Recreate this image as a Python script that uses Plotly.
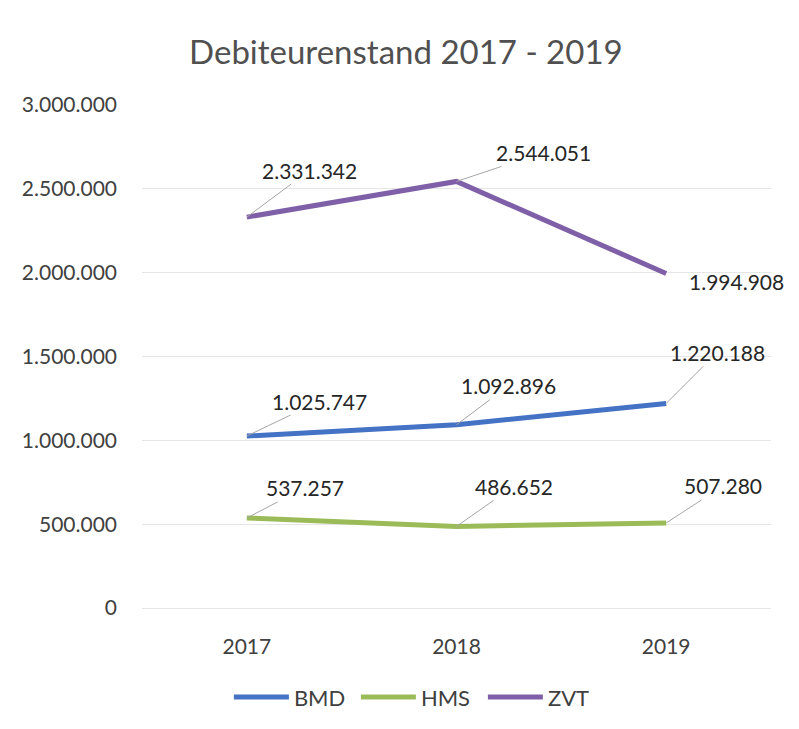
import plotly.graph_objects as go

years = ["2017", "2018", "2019"]
bmd = [1025747, 1092896, 1220188]
hms = [537257, 486652, 507280]
zvt = [2331342, 2544051, 1994908]
series_names = ["BMD", "HMS", "ZVT"]
colors = ["#4472C4", "#9BBB59", "#7F60A8"]
ytick_vals = [0, 500000, 1000000, 1500000, 2000000, 2500000, 3000000]

# label offsets (pixels) per series/point: (ax, ay)
offsets = {
    "BMD": [(73, -35), (52, -39), (51, -51)],
    "HMS": [(58, -30), (57, -40), (57, -37)],
    "ZVT": [(63, -47), (87, -29), (70, 8)],
}

FONT = "Lato"
TXT = "#404040"


def fmt(v):
    return f"{v:,}".replace(",", ".")


fig = go.Figure()
data = {"BMD": bmd, "HMS": hms, "ZVT": zvt}
for name, col in zip(series_names, colors):
    fig.add_trace(go.Scatter(
        x=years, y=data[name], mode="lines", name=name,
        line=dict(color=col, width=5),
    ))

annotations = []
for name in series_names:
    for i, v in enumerate(data[name]):
        ax, ay = offsets[name][i]
        hide = (name == "ZVT" and i == 2)
        annotations.append(dict(
            x=i, y=v, xref="x", yref="y", text=fmt(v),
            showarrow=True, ax=ax, ay=ay, arrowhead=0, arrowwidth=1,
            arrowcolor="rgba(0,0,0,0)" if hide else "#A6A6A6",
            standoff=0, startstandoff=0,
            font=dict(family=FONT, size=21, color="#262626"),
        ))

fig.update_layout(
    width=799, height=729,
    paper_bgcolor="white", plot_bgcolor="white",
    margin=dict(l=142, r=28, t=105, b=120),
    separators=",.",
    title=dict(text="Debiteurenstand 2017 - 2019", x=0.508, xanchor="center",
               y=1 - 52 / 729, yanchor="middle", yref="container",
               font=dict(family=FONT, size=33, color="#505050")),
    xaxis=dict(type="category", range=[-0.5, 2.5], showgrid=False,
               showline=False, zeroline=False, ticks="",
               ticklabelstandoff=24,
               tickfont=dict(family=FONT, size=21, color=TXT)),
    yaxis=dict(range=[0, 3000000], tickvals=ytick_vals,
               ticktext=[fmt(v) for v in ytick_vals],
               showgrid=True, gridcolor="#E6E6E6", gridwidth=1,
               zeroline=True, zerolinecolor="#E6E6E6", zerolinewidth=1,
               showline=False, ticks="", ticklabelstandoff=24,
               tickfont=dict(family=FONT, size=21, color=TXT)),
    legend=dict(orientation="h", x=0.441, xanchor="center", y=-0.175,
                yanchor="middle", itemwidth=55,
                entrywidth=57, entrywidthmode="pixels",
                font=dict(family=FONT, size=22, color=TXT),
                itemsizing="constant"),
    annotations=annotations,
    showlegend=True,
)

fig.write_html("out.html")
